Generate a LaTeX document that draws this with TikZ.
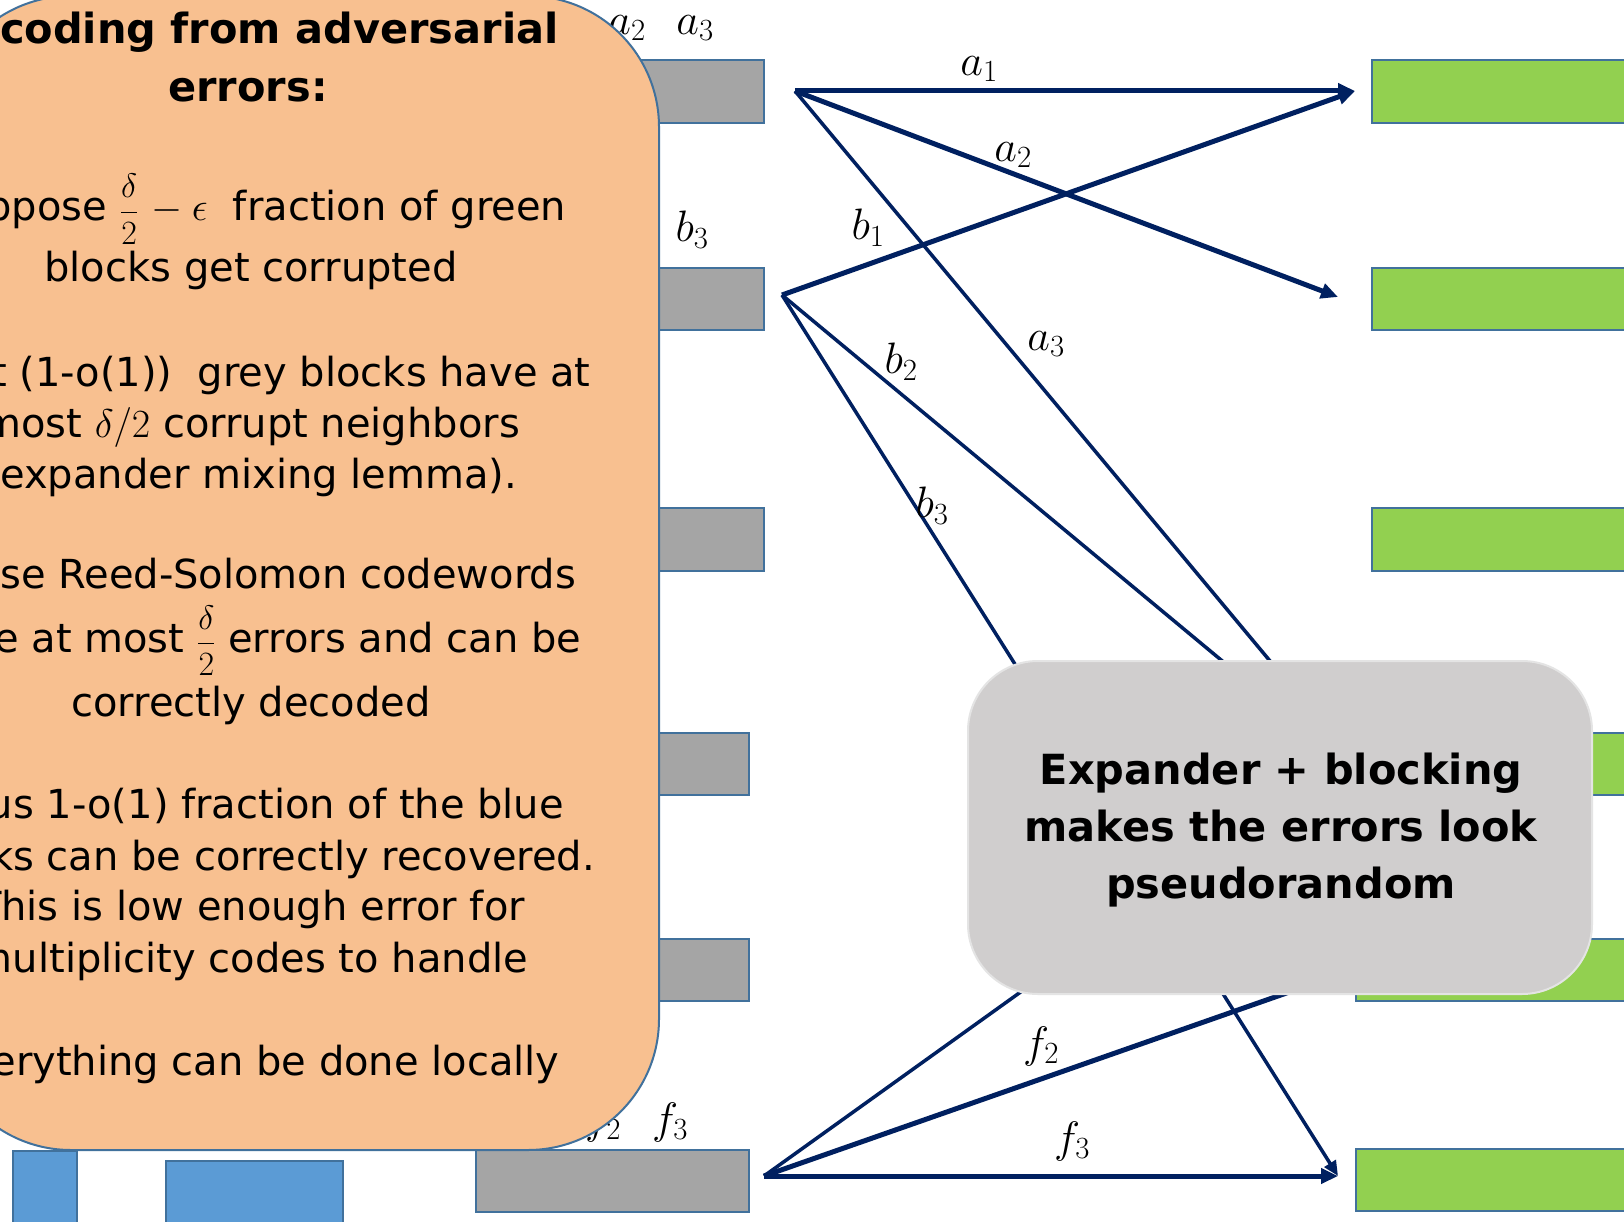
\RequirePackage{fix-cm}
\documentclass[tikz,border=0pt]{standalone}
\usepackage{amsmath}
\usepackage{fontspec}
\setmainfont{DejaVu Sans}
\usetikzlibrary{arrows.meta}
\definecolor{navy}{HTML}{002060}
\definecolor{edgeblue}{HTML}{41719C}
\definecolor{greyfill}{HTML}{A5A5A5}
\definecolor{greenfill}{HTML}{92D050}
\definecolor{bluefill}{HTML}{5B9BD5}
\definecolor{peach}{HTML}{F8C090}
\definecolor{boxgrey}{HTML}{D0CECE}
\definecolor{boxedge}{HTML}{E4E4E4}
\newcommand\halfdelta{{\fontsize{34}{36}\selectfont$\dfrac{\delta}{2}$}}
\begin{document}
\begin{tikzpicture}[x=1pt,y=-1pt,
  blk/.style={draw=edgeblue, line width=2pt, inner sep=0pt, anchor=north west},
  gblk/.style={blk, fill=greyfill},
  grblk/.style={blk, fill=greenfill},
  bblk/.style={blk, fill=bluefill},
  thickarr/.style={draw=navy, line width=5pt, -{Triangle[length=17pt,width=15pt]}},
  thinarr/.style={draw=navy, line width=3.5pt, -{Triangle[length=15pt,width=13pt]}},
  lbl/.style={font=\fontsize{44}{48}\selectfont, inner sep=0pt},
  body/.style={font=\fontsize{40}{52}\selectfont, anchor=base, inner sep=0pt},
  ttl/.style={font=\fontsize{41.5}{50}\selectfont\bfseries, anchor=base, inner sep=0pt},
  msg/.style={font=\fontsize{41.5}{48}\selectfont\bfseries, anchor=base, inner sep=0pt}]
\useasboundingbox (0,0) rectangle (1624,1222);
\fill[white] (0,0) rectangle (1624,1222);

% grey blocks
\node[gblk, minimum width=163pt, minimum height=63pt] (g1) at (600,59) {};
\node[gblk, minimum width=163pt, minimum height=62pt] (g2) at (600,267) {};
\node[gblk, minimum width=163pt, minimum height=63pt] (g3) at (600,507) {};
\node[gblk, minimum width=148pt, minimum height=62pt] (g4) at (600,732) {};
\node[gblk, minimum width=148pt, minimum height=62pt] (g5) at (600,938) {};
\node[gblk, minimum width=273pt, minimum height=62pt] (g6) at (475,1149) {};

% green blocks
\node[grblk, minimum width=280pt, minimum height=63pt] (G1) at (1371,59) {};
\node[grblk, minimum width=280pt, minimum height=62pt] (G2) at (1371,267) {};
\node[grblk, minimum width=280pt, minimum height=63pt] (G3) at (1371,507) {};
\node[grblk, minimum width=300pt, minimum height=62pt] (G4) at (1355,732) {};
\node[grblk, minimum width=300pt, minimum height=62pt] (G5) at (1355,938) {};
\node[grblk, minimum width=300pt, minimum height=62pt] (G6) at (1355,1148) {};

% blue blocks
\node[bblk, minimum width=64pt, minimum height=90pt] (u1) at (12,1150) {};
\node[bblk, minimum width=177pt, minimum height=80pt] (u2) at (165,1160) {};

% labels above grey blocks
\node[lbl] (ta2) at (627,28) {$a_2$};
\node[lbl] (ta3) at (695,28) {$a_3$};
\node[lbl] (tb3) at (692,230) {$b_3$};
\node[lbl] (tf2) at (603,1122) {$f_2$};
\node[lbl] (tf3) at (670,1122) {$f_3$};

% connector endpoints
\coordinate (A) at (795,91);
\coordinate (B) at (782,295);
\coordinate (F) at (764,1176);
\coordinate (T1) at (1355,91);
\coordinate (T2) at (1338,297);
\coordinate (T6) at (1338,1176);
\coordinate (Ta3) at (1355,763);
\coordinate (Tb2) at (1345,763);
\coordinate (Tf1) at (1340,763);
\coordinate (Tf2) at (1355,969);

\draw[thickarr] (A) -- (T1);
\draw[thickarr] (A) -- (T2);
\draw[thinarr] (A) -- (Ta3);
\draw[thickarr] (B) -- (T1);
\draw[thinarr] (B) -- (Tb2);
\draw[thinarr] (B) -- (T6);
\draw[thinarr] (F) -- (Tf1);
\draw[thickarr] (F) -- (Tf2);
\draw[thickarr] (F) -- (T6);

% connector labels
\node[lbl] (la1) at (979,69) {$a_1$};
\node[lbl] (la2) at (1013,155) {$a_2$};
\node[lbl] (la3) at (1046,344) {$a_3$};
\node[lbl] (lb1) at (868,228) {$b_1$};
\node[lbl] (lb2) at (901,362) {$b_2$};
\node[lbl] (lb3) at (932,506) {$b_3$};
\node[lbl] (lf2) at (1041,1046) {$f_2$};
\node[lbl] (lf3) at (1072,1141) {$f_3$};

% grey message box
\node[draw=boxedge, line width=2pt, fill=boxgrey, rounded corners=70pt,
      minimum width=624pt, minimum height=333pt] (msgbox) at (1280,827.5) {};
\node[msg] (m1) at (1281,784) {Expander + blocking};
\node[msg] (m2) at (1281,841) {makes the errors look};
\node[msg] (m3) at (1281,898) {pseudorandom};

% orange info box
\node[draw=edgeblue, line width=2pt, fill=peach, rounded corners=131pt,
      minimum width=719pt, minimum height=1154pt] (info) at (299.5,573) {};
\node[ttl] (t1) at (248,44) {Decoding from adversarial};
\node[ttl] (t2) at (248,102) {errors:};
\node[body] (l3) at (251,221) {Suppose \halfdelta$\mskip2mu{}-\epsilon$\ \ fraction of green};
\node[body] (l4) at (251,282) {blocks get corrupted};
\node[body] (l5) at (251,386) {Most (1-o(1))\ \ grey blocks have at};
\node[body] (l6) at (251,437) {most $\delta/2$ corrupt neighbors};
\node[body] (l7) at (251,488) {(expander mixing lemma).};
\node[body] (l8) at (251,588) {Those Reed-Solomon codewords};
\node[body] (l9) at (251,652) {have at most \halfdelta\ errors and can be};
\node[body] (l10) at (251,716) {correctly decoded};
\node[body] (l11) at (251,818) {Thus 1-o(1) fraction of the blue};
\node[body] (l12) at (251,870) {blocks can be correctly recovered.};
\node[body] (l13) at (251,920) {This is low enough error for};
\node[body] (l14) at (251,972) {multiplicity codes to handle};
\node[body] (l15) at (251,1075) {Everything can be done locally};
\end{tikzpicture}
\end{document}
